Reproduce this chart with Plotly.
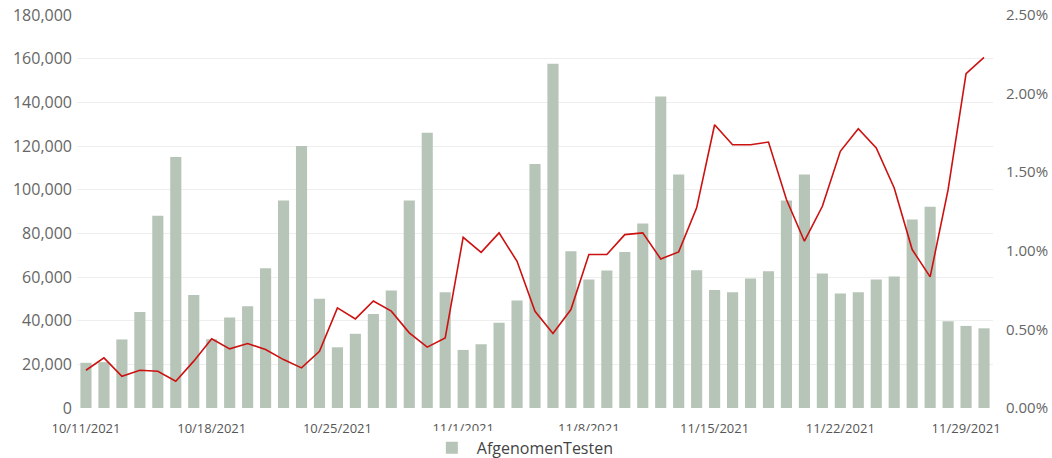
import plotly.graph_objects as go
import pandas as pd

dates = pd.date_range("2021-10-11", "2021-11-30", freq="D")

afgenomen_testen = [
    20700, 21000, 31400, 44000, 88000, 115000, 51700, 31500, 41500, 46600,
    64000, 95000, 120000, 50000, 27800, 34000, 43100, 53800, 95000, 126100,
    53000, 26600, 29200, 39000, 49200, 111800, 157700, 71800, 58800, 63000,
    71500, 84500, 142700, 106900, 63100, 54100, 53000, 59300, 62600, 95000,
    106900, 61600, 52400, 53000, 58800, 60200, 86300, 92200, 39700, 37600,
    36500,
]

percentage = [
    0.240, 0.319, 0.202, 0.240, 0.234, 0.170, 0.298, 0.440, 0.376, 0.410,
    0.372, 0.308, 0.255, 0.361, 0.637, 0.567, 0.681, 0.616, 0.478, 0.387,
    0.446, 1.086, 0.990, 1.114, 0.933, 0.615, 0.474, 0.626, 0.976, 0.976,
    1.103, 1.114, 0.948, 0.993, 1.273, 1.802, 1.675, 1.675, 1.692, 1.326,
    1.061, 1.283, 1.633, 1.777, 1.654, 1.400, 1.008, 0.834, 1.389, 2.127,
    2.230,
]
percentage_frac = [p / 100 for p in percentage]

fig = go.Figure()
fig.add_trace(go.Bar(
    x=dates, y=afgenomen_testen, name="AfgenomenTesten",
    marker=dict(color="#B7C5B8", line=dict(width=0)),
))
fig.add_trace(go.Scatter(
    x=dates, y=percentage_frac, name="Percentage", yaxis="y2",
    mode="lines", line=dict(color="#CC1111", width=1.6),
    showlegend=False,
))

fig.update_layout(
    width=1052, height=458,
    margin=dict(l=77, r=59, t=15, b=50, autoexpand=False),
    plot_bgcolor="white", paper_bgcolor="white",
    font=dict(family="Open Sans, sans-serif", color="#666666"),
    bargap=0.38,
    showlegend=True,
    legend=dict(orientation="h", x=0.497, xanchor="center", xref="container",
                y=0.022, yanchor="middle", yref="container",
                font=dict(size=16, color="#444444"), itemwidth=40,
                tracegroupgap=0),
    xaxis=dict(
        type="date",
        range=["2021-10-10 12:00", "2021-11-30 12:00"],
        tick0="2021-10-11", dtick=7 * 24 * 3600 * 1000,
        tickformat="%-m/%-d/%Y",
        showgrid=False, zeroline=False, showline=False,
        ticks="", tickfont=dict(size=13, color="#555555"),
        ticklabelstandoff=11,
    ),
    yaxis=dict(
        range=[0, 180000], dtick=20000, tickformat=",d",
        showgrid=True, gridcolor="#EEEEEE", gridwidth=1,
        zeroline=False, showline=False, ticks="",
        tickfont=dict(size=16, color="#666666"),
        ticklabelstandoff=4,
    ),
    yaxis2=dict(
        range=[0, 0.025], dtick=0.005, tickformat=".2%",
        overlaying="y", side="right",
        showgrid=False, zeroline=False, showline=False, ticks="",
        tickfont=dict(size=15, color="#666666"),
        ticklabelstandoff=12,
    ),
)

fig.write_html(
    "out.html",
    config={"displayModeBar": False},
    post_script="document.body.style.margin='0';document.body.style.overflow='hidden';",
)
